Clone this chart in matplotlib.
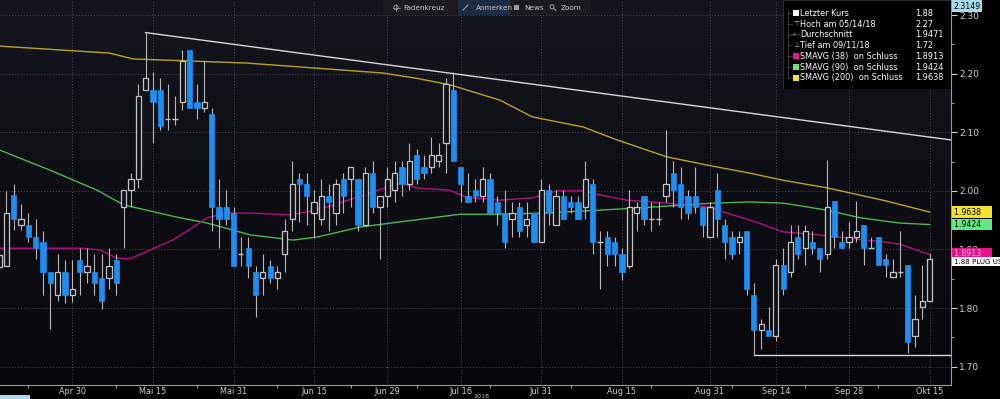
import numpy as np
import pandas as pd
import matplotlib
matplotlib.use("Agg")
import matplotlib.pyplot as plt
from matplotlib.patches import Rectangle, Circle

# ---------------- data ----------------
holidays = ["2018-05-28", "2018-07-04", "2018-09-03"]
dates = pd.bdate_range("2018-04-16", "2018-10-15", freq="C", holidays=holidays)

opens = [1.870, 1.872, 1.993, 1.942, 1.942, 1.922, 1.912, 1.862, 1.822, 1.862,
         1.822, 1.882, 1.862, 1.862, 1.852, 1.852, 1.882, 1.973, 2.001, 2.021,
         2.172, 2.172, 2.172, 2.122, 2.122, 2.152, 2.241, 2.152, 2.142, 2.131,
         1.972, 1.972, 1.962, 1.892, 1.902, 1.862, 1.852, 1.872, 1.852, 1.892,
         1.952, 2.021, 2.012, 1.962, 1.952, 1.992, 1.962, 2.021, 2.021, 2.021,
         1.942, 2.031, 1.972, 1.992, 2.001, 2.041, 2.012, 2.061, 2.041, 2.041,
         2.051, 2.082, 2.172, 2.041, 1.992, 2.001, 1.992, 2.021, 1.981, 1.962,
         1.952, 1.972, 1.942, 1.962, 1.912, 2.001, 1.942, 1.992, 1.981, 1.981,
         1.972, 2.012, 1.912, 1.922, 1.912, 1.892, 1.872, 1.962, 1.992, 1.952,
         1.952, 1.992, 2.031, 2.012, 1.992, 1.992, 1.972, 1.922, 2.001, 1.942,
         1.922, 1.912, 1.932, 1.822, 1.762, 1.762, 1.752, 1.873, 1.862, 1.922,
         1.902, 1.912, 1.902, 1.892, 1.982, 1.912, 1.912, 1.922, 1.942, 1.902,
         1.922, 1.883, 1.853, 1.862, 1.873, 1.752, 1.802, 1.812]
highs = [1.900, 2.000, 2.012, 1.977, 1.963, 1.952, 1.932, 1.862, 1.892, 1.882,
         1.882, 1.902, 1.902, 1.892, 1.892, 1.902, 1.892, 2.001, 2.031, 2.182,
         2.270, 2.202, 2.192, 2.182, 2.162, 2.241, 2.241, 2.182, 2.222, 2.141,
         2.021, 2.001, 1.972, 1.922, 1.922, 1.872, 1.892, 1.882, 1.872, 1.952,
         2.051, 2.031, 2.031, 2.001, 2.021, 2.012, 2.021, 2.031, 2.041, 2.021,
         2.041, 2.051, 1.992, 2.041, 2.051, 2.051, 2.082, 2.071, 2.061, 2.092,
         2.082, 2.192, 2.202, 2.041, 2.031, 2.021, 2.041, 2.031, 1.992, 2.001,
         1.981, 1.981, 1.981, 1.962, 2.021, 2.012, 2.001, 2.001, 1.992, 1.992,
         2.051, 2.021, 1.932, 1.932, 1.922, 1.902, 2.001, 1.981, 1.992, 1.981,
         1.981, 2.103, 2.051, 2.041, 2.001, 2.041, 1.972, 1.981, 2.031, 1.952,
         1.932, 1.932, 1.932, 1.843, 1.782, 1.802, 1.883, 1.902, 1.942, 1.942,
         1.942, 1.932, 1.902, 2.053, 1.982, 1.932, 1.947, 1.982, 1.942, 1.922,
         1.922, 1.892, 1.883, 1.932, 1.873, 1.822, 1.873, 1.892]
lows = [1.860, 1.872, 1.933, 1.933, 1.913, 1.883, 1.822, 1.764, 1.812, 1.808,
        1.811, 1.822, 1.842, 1.822, 1.798, 1.832, 1.822, 1.902, 1.973, 2.004,
        2.172, 2.082, 2.103, 2.103, 2.112, 2.138, 2.142, 2.122, 2.135, 1.932,
        1.902, 1.942, 1.872, 1.872, 1.852, 1.784, 1.822, 1.842, 1.832, 1.862,
        1.932, 1.947, 1.942, 1.922, 1.942, 1.932, 1.942, 1.962, 1.972, 1.932,
        1.942, 1.962, 1.883, 1.972, 1.981, 1.992, 2.001, 2.012, 2.021, 2.031,
        2.041, 2.031, 2.051, 1.981, 1.981, 1.981, 1.981, 1.962, 1.942, 1.902,
        1.922, 1.922, 1.922, 1.912, 1.912, 1.942, 1.942, 1.952, 1.962, 1.952,
        1.952, 1.892, 1.832, 1.872, 1.872, 1.848, 1.868, 1.932, 1.942, 1.932,
        1.942, 1.981, 1.972, 1.952, 1.952, 1.962, 1.922, 1.922, 1.922, 1.883,
        1.883, 1.892, 1.822, 1.720, 1.730, 1.752, 1.743, 1.822, 1.853, 1.883,
        1.873, 1.892, 1.862, 1.883, 1.902, 1.902, 1.902, 1.912, 1.873, 1.902,
        1.873, 1.853, 1.853, 1.853, 1.723, 1.734, 1.782, 1.812]
closes = [1.890, 1.963, 1.952, 1.952, 1.922, 1.902, 1.862, 1.842, 1.862, 1.822,
          1.832, 1.862, 1.872, 1.842, 1.812, 1.872, 1.842, 2.001, 2.021, 2.162,
          2.192, 2.152, 2.111, 2.122, 2.122, 2.222, 2.142, 2.142, 2.152, 1.972,
          1.952, 1.952, 1.872, 1.892, 1.872, 1.822, 1.862, 1.852, 1.862, 1.932,
          2.012, 2.012, 1.992, 1.981, 1.992, 1.981, 2.012, 1.992, 2.041, 1.942,
          2.031, 1.972, 1.992, 2.021, 2.031, 2.012, 2.051, 2.021, 2.031, 2.061,
          2.061, 2.182, 2.051, 2.012, 1.981, 1.992, 2.021, 1.962, 1.962, 1.912,
          1.962, 1.932, 1.952, 1.912, 2.001, 1.962, 1.992, 1.952, 1.972, 1.952,
          2.021, 1.912, 1.912, 1.892, 1.892, 1.862, 1.972, 1.972, 1.952, 1.952,
          1.952, 2.012, 2.001, 1.972, 1.962, 1.972, 1.942, 1.972, 1.952, 1.912,
          1.892, 1.922, 1.832, 1.762, 1.772, 1.752, 1.873, 1.832, 1.912, 1.892,
          1.932, 1.902, 1.883, 1.972, 1.922, 1.902, 1.922, 1.932, 1.902, 1.902,
          1.873, 1.873, 1.862, 1.862, 1.742, 1.782, 1.812, 1.883]

# moving averages, read at sample days (trading-day index, value)
sma38_idx = [0, 11.5, 13.8, 16.1, 17.9, 20.6, 23.7, 26.5, 28.4, 31.1, 34.2, 39.7, 43.4,
             46.9, 50.6, 53.8, 55.1, 57, 61.5, 63.8, 68.3, 72.8, 76.1, 79.7, 82, 85.7,
             91.1, 97, 99.3, 102.5, 107, 111.6, 116.1, 120.6, 122.9, 127]
sma38_val = [1.902, 1.902, 1.899, 1.885, 1.884, 1.899, 1.916, 1.938, 1.954, 1.962, 1.962,
             1.959, 1.967, 1.981, 1.996, 2.010, 2.013, 2.005, 2.001, 1.989, 1.984, 1.988,
             2.000, 2.000, 1.993, 1.984, 1.979, 1.972, 1.962, 1.950, 1.930, 1.925, 1.919,
             1.913, 1.909, 1.8913]
sma90_idx = [0, 7, 13.4, 17, 24.3, 28.4, 34.2, 40.1, 43.4, 49.2, 54.7, 59.8, 62.9, 68.3,
             74.2, 82, 88.8, 97.4, 102.5, 107, 113, 117.5, 122.9, 127]
sma90_val = [2.070, 2.035, 2.001, 1.976, 1.955, 1.945, 1.925, 1.916, 1.921, 1.938, 1.947,
             1.955, 1.960, 1.960, 1.962, 1.967, 1.972, 1.979, 1.981, 1.979, 1.967, 1.954,
             1.945, 1.9424]
sma200_idx = [0, 15.1, 18.3, 33.8, 52.4, 57, 61.5, 68.3, 72.8, 79.7, 84.3, 91.1, 96.6,
              102.5, 107, 113, 120.6, 127]
sma200_val = [2.247, 2.235, 2.225, 2.218, 2.201, 2.192, 2.181, 2.155, 2.126, 2.109, 2.087,
              2.058, 2.044, 2.030, 2.018, 2.005, 1.984, 1.9638]

tick_dates = ["2018-04-30", "2018-05-15", "2018-05-31", "2018-06-15", "2018-06-29",
              "2018-07-16", "2018-07-31", "2018-08-15", "2018-08-31", "2018-09-14",
              "2018-09-28", "2018-10-15"]
tick_labels = ["Apr 30", "Mai 15", "Mai 31", "Jun 15", "Jun 29", "Jul 16", "Jul 31",
               "Aug 15", "Aug 31", "Sep 14", "Sep 28", "Okt 15"]
minor_dates = ["2018-04-20", "2018-05-08", "2018-05-23", "2018-06-08", "2018-06-22",
               "2018-07-06", "2018-07-20", "2018-08-06", "2018-08-21", "2018-09-06",
               "2018-09-20", "2018-10-04"]

legend_names = ["Letzter Kurs", "Hoch am 05/14/18", "Durchschnitt", "Tief am 09/11/18",
                "SMAVG (38)  on Schluss", "SMAVG (90)  on Schluss", "SMAVG (200)  on Schluss"]
legend_vals = ["1.88", "2.27", "1.9471", "1.72", "1.8913", "1.9424", "1.9638"]

# trendline anchors (index, value) and support level
trend_pts = [(20, 2.27), (62, 2.20)]
support_start, support_val = 103, 1.72

# ---------------- styling ----------------
BG_TOP = np.array([0x15, 0x15, 0x1e]) / 255
BG_BOT = np.array([0x07, 0x07, 0x0b]) / 255
BLUE = "#1f8ef1"
GRAY = "#c4c4c4"
C38 = "#b0127a"
C90 = "#4fb35a"
C200 = "#b8a628"

fig = plt.figure(figsize=(10, 3.99), dpi=100, facecolor="black")
ax = fig.add_axes([0.0, 0.035, 0.951, 0.965])
ymin, ymax = 1.6686, 2.3256
xmin, xmax = 0.136, 129.9
ax.set_xlim(xmin, xmax)
ax.set_ylim(ymin, ymax)

# gradient background
grad = np.linspace(0, 1, 256)[:, None]
img = BG_TOP[None, None, :] * (1 - grad[..., None]) + BG_BOT[None, None, :] * grad[..., None]
ax.imshow(img, extent=[xmin, xmax, ymin, ymax], aspect="auto", zorder=0, origin="upper")

x = np.arange(len(dates))
date_pos = {d.strftime("%Y-%m-%d"): i for i, d in enumerate(dates)}
tpos = [date_pos[d] for d in tick_dates]
mpos = [date_pos[d] for d in minor_dates]

# grid
for t in tpos:
    ax.axvline(t, color="#4a4a55", lw=0.7, ls=(0, (1, 2)), zorder=1)
for yv in np.arange(1.70, 2.31, 0.10):
    ax.axhline(yv, color="#4a4a55", lw=0.7, ls=(0, (1, 2)), zorder=1)

# moving averages
ax.plot(sma200_idx, sma200_val, color=C200, lw=1.0, zorder=2)
ax.plot(sma90_idx, sma90_val, color=C90, lw=1.0, zorder=2)
ax.plot(sma38_idx, sma38_val, color=C38, lw=1.0, zorder=2)

# trendline and support
(tx0, tv0), (tx1, tv1) = trend_pts
slope = (tv1 - tv0) / (tx1 - tx0)
ax.plot([tx0, xmax], [tv0, tv0 + slope * (xmax - tx0)], color="#d8d8d8", lw=1.0, zorder=3)
ax.plot([support_start, xmax], [support_val, support_val], color="#d8d8d8", lw=1.0, zorder=3)

# candles
W = 0.72
o = np.array(opens); h = np.array(highs); l = np.array(lows); c = np.array(closes)
ax.vlines(x, l, h, color="#b8b8b8", lw=0.8, zorder=4)
for i in range(len(x)):
    lo, hi = min(o[i], c[i]), max(o[i], c[i])
    if abs(c[i] - o[i]) < 1e-4:
        ax.hlines(o[i], x[i] - W / 2, x[i] + W / 2, color=GRAY, lw=1.0, zorder=5)
    elif c[i] < o[i]:
        ax.add_patch(Rectangle((x[i] - W / 2, lo), W, hi - lo, facecolor=BLUE,
                               edgecolor=BLUE, lw=0.5, zorder=5))
    else:
        ax.add_patch(Rectangle((x[i] - W / 2, lo), W, hi - lo, facecolor="#101018",
                               edgecolor=GRAY, lw=0.9, zorder=5))

# axes styling
for s in ["top", "left"]:
    ax.spines[s].set_visible(False)
ax.spines["right"].set_color("#9a9a9a")
ax.spines["bottom"].set_color("#9a9a9a")
ax.yaxis.tick_right()
ax.set_yticks(np.arange(1.70, 2.31, 0.10))
ax.set_yticklabels([f"{v:.2f}" for v in np.arange(1.70, 2.31, 0.10)])
ax.set_yticks(np.arange(1.75, 2.31, 0.10), minor=True)
ax.tick_params(axis="y", which="major", colors="#d0d0d0", labelsize=6.5, length=4, width=0.8, pad=2)
ax.tick_params(axis="y", which="minor", colors="#9a9a9a", length=2, width=0.8)
ax.set_xticks(tpos)
ax.set_xticklabels(tick_labels)
ax.set_xticks(mpos, minor=True)
ax.tick_params(axis="x", which="major", colors="#d0d0d0", labelsize=5.9, length=0, pad=1.2)
ax.tick_params(axis="x", which="minor", colors="#9a9a9a", length=2, width=0.8)
fig.text(0.4815, 0.0, "2018", color="#c8c8c8", fontsize=4.6, ha="center", va="bottom")

# right-side value tags
def tag(val, txt, fc, tc="black", fs=5.6):
    yfig = ax.transData.transform((0, val))[1] / fig.bbox.height
    fig.text(0.9535, yfig, txt, fontsize=fs, color=tc, va="center", ha="left",
             bbox=dict(boxstyle="square,pad=0.18", fc=fc, ec="none"))

tag(2.3149, "2.3149", "#a6dcee")
tag(1.9638, "1.9638    ", "#f2e32a")
tag(1.9424, "1.9424    ", "#62e882")
tag(1.893, "1.8913    ", "#e0168a", tc="#f0b0d0")
tag(1.879, "1.88 PLUG US", "#ffffff", fs=5.1)

# legend box (top right)
lg = fig.add_axes([0.783, 0.778, 0.168, 0.222])
lg.set_xlim(0, 168); lg.set_ylim(88, 0)
lg.axis("off")
lg.add_patch(Rectangle((0, 0), 168, 88, facecolor="black", edgecolor="#333333", lw=0.6))
rows_y = [13.3, 24, 34.3, 45, 55.7, 66.7, 77.3]
lg.plot([5, 5], [10, 77.3], color="#777777", lw=0.6, ls=(0, (1, 1)))
markers = [("sq", "white"), ("T", None), ("+", None), ("L", None),
           ("sq", "#e0168a"), ("sq", "#62e882"), ("sq", "#f2e32a")]
for yy, (kind, col), name, val in zip(rows_y, markers, legend_names, legend_vals):
    lg.plot([5, 9], [yy, yy], color="#777777", lw=0.6, ls=(0, (1, 1)))
    if kind == "sq":
        lg.add_patch(Rectangle((10, yy - 3), 6, 6, facecolor=col, edgecolor="none"))
    elif kind == "T":
        lg.text(13, yy, "\u22a4", color="#bbbbbb", fontsize=5, ha="center", va="center")
    elif kind == "+":
        lg.text(13, yy, "-+-", color="#bbbbbb", fontsize=4.5, ha="center", va="center")
    else:
        lg.text(13, yy, "\u22a5", color="#bbbbbb", fontsize=5, ha="center", va="center")
    lg.text(17, yy, name, color="white", fontsize=5.9, va="center", ha="left")
    lg.text(132, yy, val, color="white", fontsize=5.9, va="center", ha="left")

# toolbar at top
tb = fig.add_axes([0.383, 0.962, 0.207, 0.038])
tb.set_xlim(0, 207); tb.set_ylim(0, 15); tb.axis("off")
tb.add_patch(Rectangle((0, 0), 207, 15, facecolor="#1b1b1f", edgecolor="none"))
tb.add_patch(Rectangle((75, 0), 52, 15, facecolor="#1c2c44", edgecolor="none"))
# crosshair icon (drawn shape)
tb.add_patch(Circle((13, 7.5), 2.2, facecolor="none", edgecolor="#9a9a9a", lw=0.6))
tb.plot([9.5, 16.5], [7.5, 7.5], color="#9a9a9a", lw=0.5)
tb.plot([13, 13], [4, 11], color="#9a9a9a", lw=0.5)
tb.text(20, 7.5, "Fadenkreuz", color="#c8c8c8", fontsize=5.2, ha="left", va="center")
# pen icon
tb.plot([80, 85], [5, 10], color="#9a9a9a", lw=0.8)
tb.text(93, 7.5, "Anmerken", color="#c8c8c8", fontsize=5.2, ha="left", va="center")
# news icon
tb.add_patch(Rectangle((131, 5), 5, 5, facecolor="#9a9a9a", edgecolor="none"))
tb.text(141, 7.5, "News", color="#c8c8c8", fontsize=5.2, ha="left", va="center")
# zoom icon (magnifier)
tb.add_patch(Circle((169, 8.3), 2.0, facecolor="none", edgecolor="#9a9a9a", lw=0.7))
tb.plot([170.5, 173], [6.8, 4.5], color="#9a9a9a", lw=0.8)
tb.text(178, 7.5, "Zoom", color="#c8c8c8", fontsize=5.2, ha="left", va="center")

# tiny cyan box bottom-left
fig.patches.append(Rectangle((0.0, 0.0), 0.03, 0.01, transform=fig.transFigure,
                             facecolor="#a6dcee", edgecolor="none"))

fig.savefig("out.png", dpi=100, facecolor="black")
